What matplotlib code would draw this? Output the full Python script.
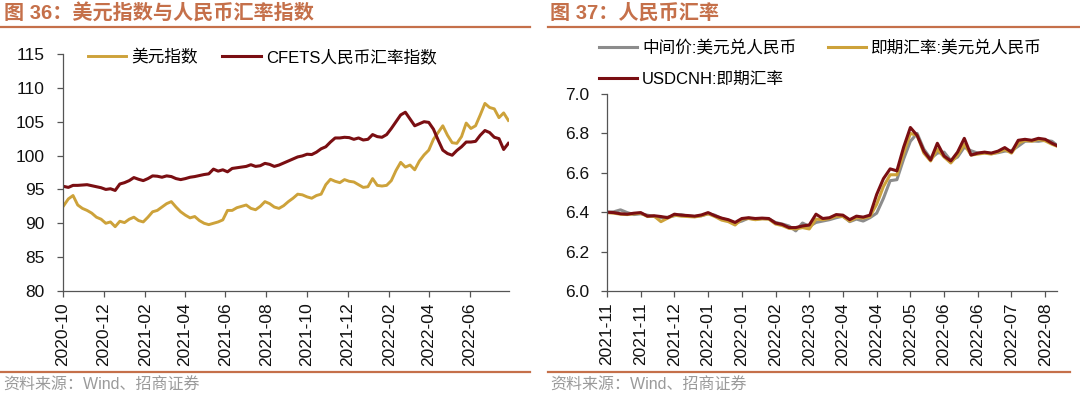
import numpy as np
import pandas as pd
import matplotlib
matplotlib.use('Agg')
import matplotlib.pyplot as plt
from matplotlib.lines import Line2D

plt.rcParams['font.family'] = ['Liberation Sans', 'Noto Sans CJK SC', 'DejaVu Sans']

# ---- 图36 data: weekly values starting 2020-10-02
week_start = '2020-10-02'
usd_index = [92.6, 93.6, 94.1, 92.7, 92.2, 91.9, 91.5, 90.9, 90.6, 90.0,
             90.2, 89.5, 90.3, 90.1, 90.6, 90.9, 90.4, 90.2, 90.9, 91.7,
             91.9, 92.4, 92.9, 93.2, 92.4, 91.7, 91.2, 90.8, 91.0, 90.4,
             90.0, 89.8, 90.0, 90.2, 90.5, 91.9, 91.9, 92.3, 92.5, 92.7,
             92.2, 92.0, 92.5, 93.2, 92.9, 92.4, 92.2, 92.6, 93.2, 93.7,
             94.3, 94.2, 93.9, 93.7, 94.1, 94.3, 95.7, 96.5, 96.2, 96.0,
             96.45, 96.2, 96.1, 95.7, 95.3, 95.4, 96.6, 95.6, 95.5, 95.6,
             96.3, 97.8, 99.0, 98.3, 98.6, 97.9, 99.2, 100.1, 100.8, 102.4,
             103.4, 104.4, 103.0, 101.9, 101.8, 102.8, 104.8, 104.0, 104.4, 106.0,
             107.7, 107.1, 106.9, 105.6, 106.3, 105.2]
cfets_index = [95.45, 95.3, 95.6, 95.6, 95.65, 95.7, 95.55, 95.4, 95.25, 95.0,
               95.1, 94.85, 95.8, 96.0, 96.3, 96.75, 96.5, 96.3, 96.6, 97.0,
               96.95, 96.8, 97.0, 96.9, 96.6, 96.45, 96.6, 96.8, 96.9, 97.05,
               97.2, 97.3, 98.0, 97.7, 97.9, 97.6, 98.1, 98.2, 98.3, 98.4,
               98.65, 98.4, 98.5, 98.85, 98.7, 98.4, 98.6, 98.9, 99.2, 99.5,
               99.8, 99.95, 100.2, 100.15, 100.5, 101.0, 101.3, 102.0, 102.6, 102.6,
               102.7, 102.65, 102.4, 102.6, 102.3, 102.4, 103.1, 102.8, 102.7, 103.1,
               104.0, 105.0, 106.0, 106.4, 105.4, 104.4, 104.7, 105.0, 104.9, 103.9,
               102.3, 100.8, 100.3, 100.05, 100.75, 101.3, 102.0, 102.0, 102.1, 103.0,
               103.7, 103.4, 102.7, 102.5, 100.9, 101.8]
left_ticks = ['2020-10', '2020-12', '2021-02', '2021-04', '2021-06', '2021-08',
              '2021-10', '2021-12', '2022-02', '2022-04', '2022-06']

# ---- 图37 data: trading-day index
day_idx = list(range(0, 265, 4)) + [267]
cny_fix = [6.400, 6.402, 6.412, 6.398, 6.388, 6.392, 6.385, 6.378, 6.372, 6.375,
           6.382, 6.388, 6.380, 6.378, 6.382, 6.392, 6.385, 6.368, 6.358, 6.345,
           6.355, 6.370, 6.364, 6.368, 6.366, 6.348, 6.340, 6.330, 6.305, 6.345,
           6.328, 6.348, 6.355, 6.362, 6.372, 6.380, 6.352, 6.365, 6.355, 6.372,
           6.395, 6.470, 6.560, 6.565, 6.670, 6.760, 6.800, 6.720, 6.672, 6.700,
           6.705, 6.662, 6.680, 6.730, 6.712, 6.700, 6.702, 6.698, 6.702, 6.710,
           6.712, 6.735, 6.760, 6.762, 6.760, 6.765, 6.760, 6.740]
cny_spot = [6.398, 6.395, 6.390, 6.388, 6.392, 6.395, 6.378, 6.380, 6.352, 6.370,
            6.385, 6.380, 6.378, 6.376, 6.382, 6.392, 6.378, 6.360, 6.352, 6.335,
            6.365, 6.368, 6.362, 6.366, 6.365, 6.340, 6.332, 6.318, 6.315, 6.322,
            6.315, 6.365, 6.362, 6.368, 6.380, 6.378, 6.355, 6.372, 6.370, 6.378,
            6.440, 6.530, 6.590, 6.590, 6.700, 6.800, 6.790, 6.700, 6.660, 6.720,
            6.680, 6.650, 6.690, 6.745, 6.690, 6.695, 6.700, 6.695, 6.705, 6.718,
            6.700, 6.750, 6.765, 6.760, 6.770, 6.762, 6.745, 6.735]
usdcnh = [6.400, 6.398, 6.392, 6.390, 6.395, 6.398, 6.380, 6.382, 6.378, 6.372,
          6.390, 6.385, 6.383, 6.380, 6.386, 6.398, 6.382, 6.370, 6.362, 6.348,
          6.368, 6.372, 6.368, 6.370, 6.368, 6.345, 6.338, 6.322, 6.322, 6.330,
          6.335, 6.390, 6.368, 6.372, 6.388, 6.385, 6.362, 6.380, 6.375, 6.385,
          6.490, 6.570, 6.620, 6.610, 6.730, 6.830, 6.790, 6.710, 6.665, 6.750,
          6.685, 6.660, 6.705, 6.775, 6.690, 6.700, 6.705, 6.700, 6.710, 6.728,
          6.705, 6.765, 6.770, 6.765, 6.775, 6.770, 6.750, 6.738]
right_tick_idx = list(range(0, 261, 20))
right_ticks = ['2021-11', '2021-11', '2021-12', '2022-01', '2022-01', '2022-02',
               '2022-03', '2022-04', '2022-04', '2022-05', '2022-06', '2022-06',
               '2022-07', '2022-08']

GOLD = '#CDA23A'
DARK = '#7A0E12'
GRAY = '#8C8C8C'
TITLE_C = '#C5704A'
SRC_C = '#9A9A9A'
MIXED = ['Liberation Sans', 'Noto Sans CJK SC', 'DejaVu Sans']

fig = plt.figure(figsize=(10.8, 3.96), dpi=100)


def style_axis(ax):
    for s in ['top', 'right']:
        ax.spines[s].set_visible(False)
    for s in ['left', 'bottom']:
        ax.spines[s].set_color('#555555')
        ax.spines[s].set_linewidth(0.9)
    ax.tick_params(axis='both', direction='out', length=4, width=0.9,
                   color='#555555', labelsize=12.5, labelcolor='#111111')
    ax.tick_params(axis='y', pad=9)
    ax.tick_params(axis='x', pad=4)


# ---- left chart
dates = pd.date_range(week_start, periods=len(usd_index), freq='7D')
ax1 = fig.add_axes([63 / 1080, 1 - 291 / 396, 446 / 1080, 237 / 396])
ax1.plot(dates, usd_index, color=GOLD, lw=2.1, label='美元指数')
ax1.plot(dates, cfets_index, color=DARK, lw=2.2, label='CFETS人民币汇率指数')
ax1.set_ylim(80, 115)
ax1.set_yticks(range(80, 116, 5))
ax1.set_xlim(pd.Timestamp('2020-10-01'), dates[-1] + pd.Timedelta(days=1))
ax1.set_xticks([pd.Timestamp(t + '-01') for t in left_ticks])
ax1.set_xticklabels(left_ticks, rotation=90)
style_axis(ax1)
ax1.legend(loc='upper left', bbox_to_anchor=(0.04, 1.05), ncol=2, frameon=False,
           prop={'family': MIXED, 'size': 12}, handlelength=2.3, handletextpad=0.3,
           columnspacing=1.5, borderaxespad=0)

# ---- right chart
ax2 = fig.add_axes([607 / 1080, 1 - 291 / 396, 450 / 1080, 197 / 396])
ax2.plot(day_idx, cny_fix, color=GRAY, lw=2.2, label='中间价:美元兑人民币')
ax2.plot(day_idx, cny_spot, color=GOLD, lw=2.2, label='即期汇率:美元兑人民币')
ax2.plot(day_idx, usdcnh, color=DARK, lw=2.2, label='USDCNH:即期汇率')
ax2.set_ylim(6.0, 7.0)
ax2.set_yticks(np.arange(6.0, 7.01, 0.2))
ax2.set_yticklabels([f'{v:.1f}' for v in np.arange(6.0, 7.01, 0.2)])
ax2.set_xlim(0, 267)
ax2.set_xticks(right_tick_idx)
ax2.set_xticklabels(right_ticks, rotation=90)
style_axis(ax2)
h, l = ax2.get_legend_handles_labels()
order = [0, 2, 1]
fig.legend([h[i] for i in order], [l[i] for i in order], loc='upper left',
           bbox_to_anchor=(592 / 1080, 1 - 33 / 396), ncol=2, frameon=False,
           prop={'family': MIXED, 'size': 12}, handlelength=2.3, handletextpad=0.3,
           columnspacing=1.9, labelspacing=1.0, borderaxespad=0)

# ---- titles, rules, sources
fig.text(4 / 1080, 1 - 13 / 396, '图 36：美元指数与人民币汇率指数', color=TITLE_C,
         fontsize=14.5, fontweight='bold', family=MIXED, va='center', ha='left')
fig.text(550 / 1080, 1 - 13 / 396, '图 37：人民币汇率', color=TITLE_C,
         fontsize=14.5, fontweight='bold', family=MIXED, va='center', ha='left')
for x0, x1 in [(0, 530), (548, 1080)]:
    fig.add_artist(Line2D([x0 / 1080, x1 / 1080], [1 - 27 / 396] * 2, color=TITLE_C, lw=1.6))
for x0, x1 in [(0, 530), (548, 1070)]:
    fig.add_artist(Line2D([x0 / 1080, x1 / 1080], [1 - 372 / 396] * 2, color=TITLE_C, lw=1.6))
fig.text(3 / 1080, 1 - 385 / 396, '资料来源：Wind、招商证券', color=SRC_C,
         fontsize=11.5, family=MIXED, va='center', ha='left')
fig.text(550 / 1080, 1 - 385 / 396, '资料来源：Wind、招商证券', color=SRC_C,
         fontsize=11.5, family=MIXED, va='center', ha='left')

fig.savefig('out.png', dpi=100)
